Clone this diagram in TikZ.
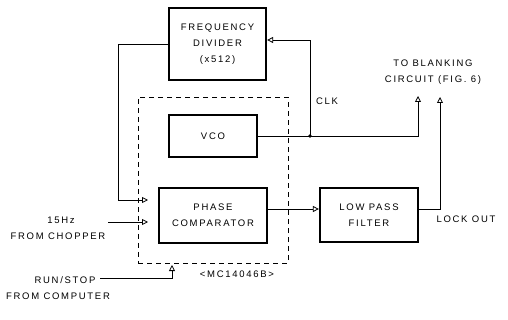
\documentclass[tikz,border=0pt]{standalone}
\usepackage{fontspec}
\setmainfont[LetterSpace=18]{Liberation Sans}
\usetikzlibrary{arrows.meta}
\begin{document}
\begin{tikzpicture}[x=1pt,y=-1pt,
  font=\fontsize{9.5}{16}\selectfont,
  blk/.style={draw,line width=2.2pt,inner sep=0pt,align=center},
  conn/.style={line width=0.8pt},
  arr/.style={conn,-{Triangle[open,length=6pt,width=6pt]}},
  lbl/.style={inner sep=0pt,align=center}]
\useasboundingbox (0,0) rectangle (508,320);
% blocks
\node[blk,minimum width=97pt,minimum height=72pt] (fd) at (217.5,44) {FREQUENCY\\DIVIDER\\(x512)};
\node[blk,minimum width=88pt,minimum height=42pt] (vco) at (213,136) {VCO};
\node[blk,minimum width=108pt,minimum height=55pt] (pc) at (213,215.5) {PHASE\\COMPARATOR};
\node[blk,minimum width=98pt,minimum height=54pt] (lpf) at (369,215) {LOW PASS\\FILTER};
\node[draw,dashed,line width=0.8pt,dash pattern=on 5pt off 4pt,minimum width=150pt,minimum height=166pt,inner sep=0pt] (mc) at (213,180) {};
% labels
\node[lbl] (blank) at (433,72.5) {TO BLANKING\\CIRCUIT (FIG. 6)};
\node[lbl] (clk) at (327,101) {CLK};
\node[lbl] (lock) at (466,219) {LOCK OUT};
\node[lbl] (hz) at (58,228) {\hspace*{6pt}15Hz\\FROM CHOPPER};
\node[lbl] (run) at (58,288.5) {\hspace*{14pt}RUN/STOP\\FROM COMPUTER};
\node[lbl] (mcl) at (237,274) {<MC14046B>};
% coordinates
\coordinate (pcin1) at (148,200);
\coordinate (pcin2) at (148,222);
\coordinate (hzs) at (108,222);
\coordinate (rss) at (100,278);
\coordinate (rse) at (172,265);
\coordinate (jn) at (310,136);
\coordinate (bl1) at (418,96);
\coordinate (bl2) at (440,97);
% connectors
\draw[arr] (fd.west) -- (118,44) |- (pcin1);
\draw[arr] (hzs) -- (pcin2);
\draw[arr] (rss) -| (rse);
\draw[conn] (vco.east) -- (jn);
\draw[arr] (jn) -| (bl1);
\draw[arr] (jn) |- ([yshift=4pt]fd.east);
\fill (jn) circle (1.8pt);
\draw[arr] ([yshift=6.5pt]pc.east) -- ([yshift=6pt]lpf.west);
\draw[arr] ([yshift=6pt]lpf.east) -| (bl2);
\end{tikzpicture}
\end{document}
